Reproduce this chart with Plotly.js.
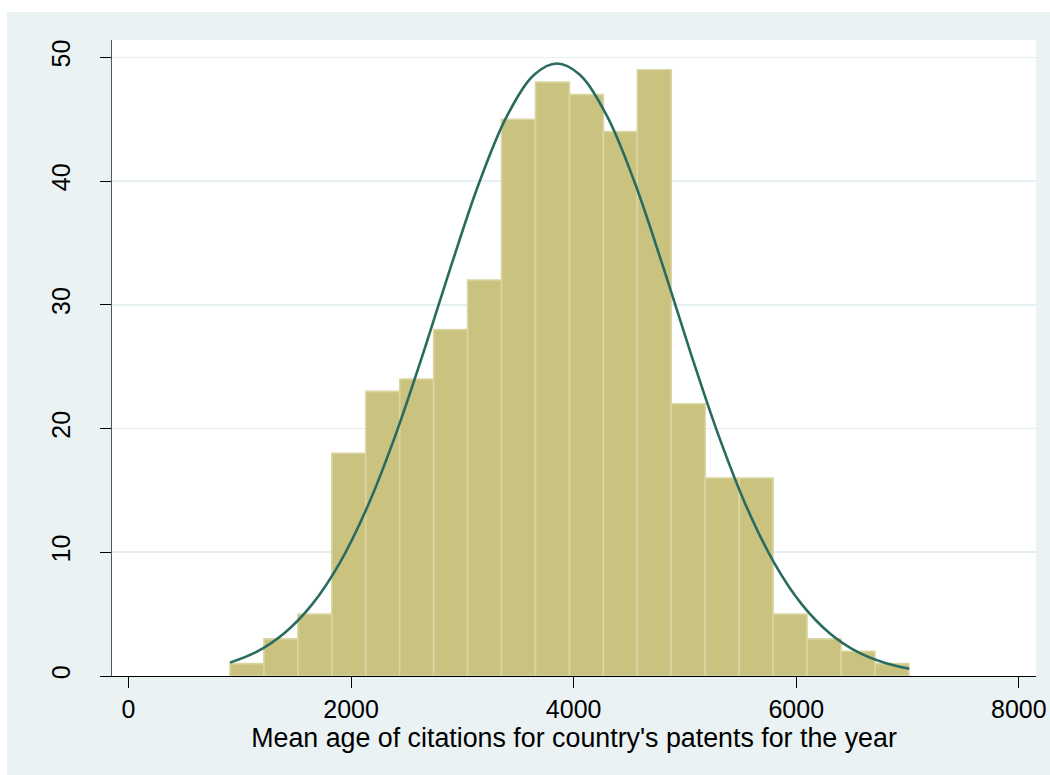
<!DOCTYPE html>
<html>
<head>
<meta charset="utf-8">
<script src="https://cdn.plot.ly/plotly-3.0.1.min.js"></script>
<style>
  html, body { margin: 0; padding: 0; background: #ffffff; }
  #chart { position: absolute; left: 7px; top: 12px; width: 1043px; height: 763px; }
</style>
</head>
<body>
<div id="chart"></div>
<script>
// Histogram data (frequency per bin)
const binStart = 912;
const binWidth = 305;
const counts = [1, 3, 5, 18, 23, 24, 28, 32, 45, 48, 47, 44, 49, 22, 16, 16, 5, 3, 2, 1];

// Normal density overlay
const curveX = [912, 1150, 1400, 1650, 1900, 2150, 2400, 2650, 2900, 3150, 3400, 3650, 3850,
                4050, 4300, 4550, 4800, 5050, 5300, 5550, 5800, 6050, 6300, 6550, 6800, 7015];
const curveY = [1.08, 1.95, 3.46, 5.79, 9.17, 13.74, 19.49, 26.14, 33.18, 39.84, 45.25, 48.63, 49.5,
                48.63, 45.25, 39.84, 33.18, 26.14, 19.49, 13.74, 9.17, 5.79, 3.46, 1.95, 1.05, 0.58];

const xTicks = [0, 2000, 4000, 6000, 8000];
const yTicks = [0, 10, 20, 30, 40, 50];
const xTitle = "Mean age of citations for country's patents for the year";

const binCenters = counts.map((c, i) => binStart + (i + 0.5) * binWidth);

const font = { family: 'Liberation Sans, Arial, sans-serif', size: 25, color: '#000000' };
const titleFont = { family: 'Liberation Sans, Arial, sans-serif', size: 26.8, color: '#000000' };

const traces = [
  {
    type: 'bar',
    x: binCenters,
    y: counts,
    width: binWidth,
    marker: { color: '#CAC380', line: { color: '#DAD5A2', width: 1.6 } },
    hoverinfo: 'x+y',
    showlegend: false
  },
  {
    type: 'scatter',
    mode: 'lines',
    x: curveX,
    y: curveY,
    line: { color: '#2A6B60', width: 2.6, shape: 'spline', smoothing: 1 },
    showlegend: false
  }
];

const layout = {
  width: 1043,
  height: 763,
  paper_bgcolor: '#EAF2F3',
  plot_bgcolor: '#FFFFFF',
  margin: { l: 105, r: 14, t: 28, b: 99 },
  font: font,
  bargap: 0,
  showlegend: false,
  xaxis: {
    range: [-148, 8154],
    tickvals: xTicks,
    ticktext: xTicks.map(String),
    ticks: 'outside',
    ticklen: 11,
    tickwidth: 1,
    tickcolor: '#000000',
    showgrid: false,
    zeroline: false,
    showline: true,
    linecolor: '#000000',
    linewidth: 1,
    tickfont: font,
    title: { text: xTitle, font: titleFont, standoff: 0 }
  },
  yaxis: {
    range: [0, 51.4],
    tickvals: yTicks,
    ticktext: yTicks.map(String),
    tickangle: -90,
    ticks: 'outside',
    ticklen: 11,
    tickwidth: 1,
    tickcolor: '#000000',
    ticklabelstandoff: 20,
    showgrid: true,
    gridcolor: '#E6EFF1',
    gridwidth: 1.6,
    zeroline: false,
    showline: true,
    linecolor: '#555555',
    linewidth: 1.2,
    tickfont: font
  }
};

Plotly.newPlot('chart', traces, layout, { displayModeBar: false, staticPlot: true });
</script>
</body>
</html>
